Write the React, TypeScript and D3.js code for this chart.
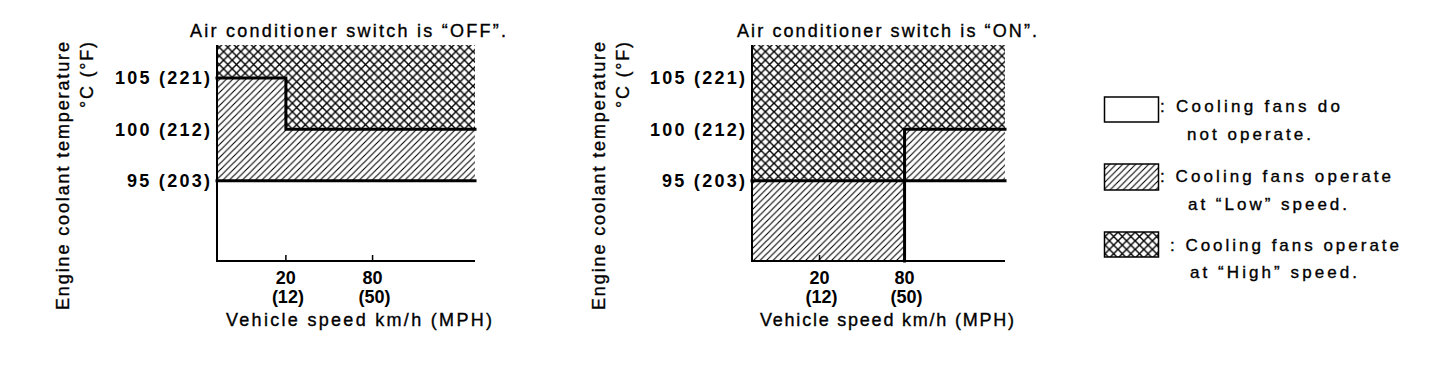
import React from "react";
import * as d3 from "d3";

// ---------- data ----------
const SPEED_MIN = 0;
const SPEED_MAX = 150; // right end of the (non-linear) speed axis
const TEMP_MIN = 87.2;
const TEMP_MAX = 108.2;

const speedTicks = [20, 80];
const speedKmhLabels = ["20", "80"];
const speedMphLabels = ["(12)", "(50)"];

const tempTicks = [105, 100, 95];
const tempLabels = ["105 (221)", "100 (212)", "95 (203)"];

type Region = { x0: number; x1: number; t0: number; t1: number; mode: "off" | "low" | "high" };

// A/C OFF
const offRegions: Region[] = [
  { x0: 0, x1: 20, t0: 95, t1: 105, mode: "low" },
  { x0: 0, x1: 20, t0: 105, t1: TEMP_MAX, mode: "high" },
  { x0: 20, x1: SPEED_MAX, t0: 95, t1: 100, mode: "low" },
  { x0: 20, x1: SPEED_MAX, t0: 100, t1: TEMP_MAX, mode: "high" },
];
const offBoundaries: [number, number][][] = [
  [[0, 105], [20, 105], [20, 100], [SPEED_MAX, 100]],
  [[0, 95], [SPEED_MAX, 95]],
];

// A/C ON
const onRegions: Region[] = [
  { x0: 0, x1: 80, t0: TEMP_MIN, t1: 95, mode: "low" },
  { x0: 0, x1: 80, t0: 95, t1: TEMP_MAX, mode: "high" },
  { x0: 80, x1: SPEED_MAX, t0: 95, t1: 100, mode: "low" },
  { x0: 80, x1: SPEED_MAX, t0: 100, t1: TEMP_MAX, mode: "high" },
];
const onBoundaries: [number, number][][] = [
  [[0, 95], [SPEED_MAX, 95]],
  [[80, TEMP_MIN], [80, 100], [SPEED_MAX, 100]],
];

const titles = ["Air conditioner switch is \u201COFF\u201D.", "Air conditioner switch is \u201CON\u201D."];

const legendItems = [
  { mode: "off", lines: [": Cooling fans do", "not operate."] },
  { mode: "low", lines: [": Cooling fans operate", "at \u201CLow\u201D speed."] },
  { mode: "high", lines: [": Cooling fans operate", "at \u201CHigh\u201D speed."] },
];

// ---------- layout ----------
const FONT = "'Liberation Sans', Arial, Helvetica, sans-serif";
const panels = [
  { left: 217, right: 475, title: { x: 190, len: 316 }, regions: offRegions, bounds: offBoundaries, yTitleX: 69, unitX: 93, xTitle: { x: 226, len: 266 } },
  { left: 752, right: 1005, title: { x: 737, len: 300 }, regions: onRegions, bounds: onBoundaries, yTitleX: 605, unitX: 629, xTitle: { x: 760, len: 254 } },
];
const TOP = 45;
const BOTTOM = 261;
const labelLens = [95, 95, 83];
const ink = { stroke: "#000", strokeWidth: 0.35 };

const fill = (m: string) => (m === "low" ? "url(#hatch)" : m === "high" ? "url(#cross)" : "#fff");

function Panel({ p, idx }: { p: (typeof panels)[number]; idx: number }) {
  const w = p.right - p.left;
  const x = d3
    .scaleLinear()
    .domain([SPEED_MIN, 20, 80, SPEED_MAX])
    .range([p.left, p.left + 0.267 * w, p.left + 0.603 * w, p.right]);
  const y = d3.scaleLinear().domain([TEMP_MIN, TEMP_MAX]).range([BOTTOM, TOP]);
  const line = d3
    .line<[number, number]>()
    .x((d) => x(d[0]))
    .y((d) => y(d[1]));
  return (
    <g>
      <text x={p.title.x} y={37} fontSize={18} fontFamily={FONT} textLength={p.title.len} lengthAdjust="spacing" {...ink}>
        {titles[idx]}
      </text>
      {p.regions.map((r, i) => (
        <rect
          key={i}
          x={x(r.x0)}
          y={y(r.t1)}
          width={x(r.x1) - x(r.x0)}
          height={y(r.t0) - y(r.t1)}
          fill={fill(r.mode)}
        />
      ))}
      {/* axes */}
      <line x1={x(SPEED_MIN)} x2={x(SPEED_MIN)} y1={y(TEMP_MAX)} y2={y(TEMP_MIN) + 1} stroke="#000" strokeWidth={2} />
      <line x1={x(SPEED_MIN)} x2={x(SPEED_MAX)} y1={y(TEMP_MIN)} y2={y(TEMP_MIN)} stroke="#000" strokeWidth={2} />
      {speedTicks.map((s, i) => (
        <g key={s}>
          <line x1={x(s)} x2={x(s)} y1={y(TEMP_MIN)} y2={y(TEMP_MIN) - 6} stroke="#000" strokeWidth={1.5} />
          <text x={x(s)} y={y(TEMP_MIN) + 23} fontSize={18} fontWeight="bold" fontFamily={FONT} textAnchor="middle">
            {speedKmhLabels[i]}
          </text>
          <text x={x(s) + 2} y={y(TEMP_MIN) + 42} fontSize={18} fontWeight="bold" fontFamily={FONT} textAnchor="middle">
            {speedMphLabels[i]}
          </text>
        </g>
      ))}
      {p.bounds.map((b, i) => (
        <path key={i} d={line(b) || ""} fill="none" stroke="#000" strokeWidth={3} strokeLinejoin="miter" strokeLinecap="square" />
      ))}
      {tempTicks.map((t, i) => (
        <text
          key={t}
          x={p.left - 7 - labelLens[i]}
          y={y(t) + 6.5}
          fontSize={18}
          fontWeight="bold"
          fontFamily={FONT}
          textLength={labelLens[i]}
          lengthAdjust="spacing"
        >
          {tempLabels[i]}
        </text>
      ))}
      <text x={p.xTitle.x} y={BOTTOM + 65} fontSize={18} fontFamily={FONT} textLength={p.xTitle.len} lengthAdjust="spacing" {...ink}>
        Vehicle speed km/h (MPH)
      </text>
      <text
        transform={`translate(${p.yTitleX},310) rotate(-90)`}
        fontSize={18}
        fontFamily={FONT}
        textLength={268}
        lengthAdjust="spacing"
        {...ink}
      >
        Engine coolant temperature
      </text>
      <text
        transform={`translate(${p.unitX},108) rotate(-90)`}
        fontSize={18}
        fontFamily={FONT}
        textLength={66}
        lengthAdjust="spacing"
        {...ink}
      >
        °C (°F)
      </text>
    </g>
  );
}

export default function App() {
  const legendBoxes = [
    { y: 97, h: 25 },
    { y: 164, h: 26 },
    { y: 232, h: 25 },
  ];
  const legendText = [
    { x1: 1160, l1: 180, x2: 1187, l2: 124, y1: 112, y2: 140 },
    { x1: 1160, l1: 231, x2: 1188, l2: 159, y1: 182, y2: 210 },
    { x1: 1170, l1: 229, x2: 1190, l2: 167, y1: 251, y2: 278 },
  ];
  return (
    <svg width={1456} height={390} style={{ position: "absolute", left: 0, top: 0, background: "#fff" }}>
      <defs>
        <pattern id="hatch" patternUnits="userSpaceOnUse" width={6.5} height={6.5}>
          <path d="M-1,7.5 L7.5,-1 M-1,1 L1,-1 M5.5,7.5 L7.5,5.5" stroke="#000" strokeWidth={1.1} />
        </pattern>
        <pattern id="cross" patternUnits="userSpaceOnUse" width={8.6} height={8.6}>
          <path d="M0,0 L8.6,8.6 M0,8.6 L8.6,0" stroke="#000" strokeWidth={1.4} />
        </pattern>
      </defs>
      <rect width={1456} height={390} fill="#fff" />
      {panels.map((p, i) => (
        <Panel key={i} p={p} idx={i} />
      ))}
      {legendItems.map((it, i) => (
        <g key={i}>
          <rect
            x={1104.5}
            y={legendBoxes[i].y}
            width={54}
            height={legendBoxes[i].h}
            fill={fill(it.mode)}
            stroke="#000"
            strokeWidth={1.5}
          />
          <text x={legendText[i].x1} y={legendText[i].y1} fontSize={17} fontFamily={FONT} textLength={legendText[i].l1} lengthAdjust="spacing" {...ink}>
            {it.lines[0]}
          </text>
          <text x={legendText[i].x2} y={legendText[i].y2} fontSize={17} fontFamily={FONT} textLength={legendText[i].l2} lengthAdjust="spacing" {...ink}>
            {it.lines[1]}
          </text>
        </g>
      ))}
    </svg>
  );
}
